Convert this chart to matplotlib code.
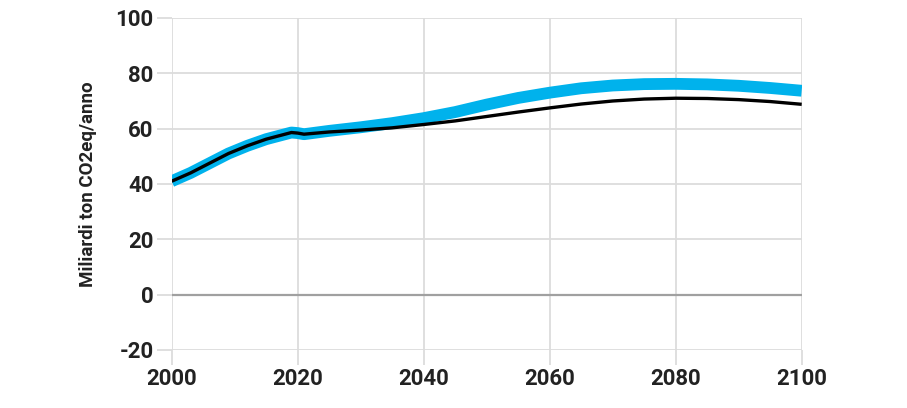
import matplotlib
matplotlib.use("Agg")
import matplotlib.pyplot as plt

years_black = [2000, 2003, 2006, 2009, 2012, 2015, 2018, 2019, 2020, 2021, 2023, 2025, 2030, 2035, 2040, 2045,
               2050, 2055, 2060, 2065, 2070, 2075, 2080, 2085, 2090, 2095, 2100]
black_vals = [41.0, 44.0, 47.5, 51.0, 53.8, 56.2, 58.0, 58.6, 58.4, 58.0, 58.4, 58.8, 59.5, 60.3, 61.5, 62.8,
              64.4, 66.0, 67.5, 68.9, 70.0, 70.7, 71.0, 70.9, 70.5, 69.8, 68.8]

years_blue = [2000, 2003, 2006, 2009, 2012, 2015, 2018, 2019, 2020, 2021, 2023, 2025, 2030, 2035, 2040, 2045,
              2050, 2055, 2060, 2065, 2070, 2075, 2080, 2085, 2090, 2095, 2100]
blue_vals = [41.0, 44.0, 47.5, 51.0, 53.8, 56.2, 58.0, 58.6, 58.4, 58.0, 58.6, 59.2, 60.5, 62.0, 63.8, 66.0,
             68.7, 71.1, 73.0, 74.6, 75.6, 76.1, 76.2, 76.0, 75.5, 74.7, 73.7]

x_ticks = [2000, 2020, 2040, 2060, 2080, 2100]
y_ticks = [-20, 0, 20, 40, 60, 80, 100]
y_label = "Miliardi ton CO2eq/anno"

FONT = ["Roboto", "DejaVu Sans"]
TXT = "#222222"
GRID = "#dcdcdc"

fig = plt.figure(figsize=(9.07, 4.08), dpi=100)
ax = fig.add_axes([0.1893, 0.1422, 0.8839 - 0.1893, 0.9559 - 0.1422])

ax.set_xlim(2000, 2100)
ax.set_ylim(-20, 100)
ax.set_xticks(x_ticks)
ax.set_yticks(y_ticks)
ax.set_xticklabels([str(t) for t in x_ticks], fontfamily=FONT, fontweight="bold", fontsize=16, color=TXT)
ax.set_yticklabels([str(t) for t in y_ticks], fontfamily=FONT, fontweight="bold", fontsize=16, color=TXT)
for s in ax.spines.values():
    s.set_visible(False)
ax.grid(True, color=GRID, linewidth=1.3, zorder=0)
ax.set_axisbelow(True)
ax.tick_params(axis="both", length=11, width=1.3, color=GRID, pad=2)
ax.axhline(0, color="#a0a0a0", linewidth=1.6, zorder=1)

ax.plot(years_blue, blue_vals, color="#00b2ec", linewidth=8.5, solid_capstyle="butt", solid_joinstyle="round", zorder=3)
ax.plot(years_black, black_vals, color="#000000", linewidth=2.4, solid_capstyle="butt", solid_joinstyle="round", zorder=4)

ax.set_ylabel(y_label, fontfamily=FONT, fontweight="bold", fontsize=13.5, color=TXT, labelpad=13)

fig.savefig("out.png", dpi=100)
